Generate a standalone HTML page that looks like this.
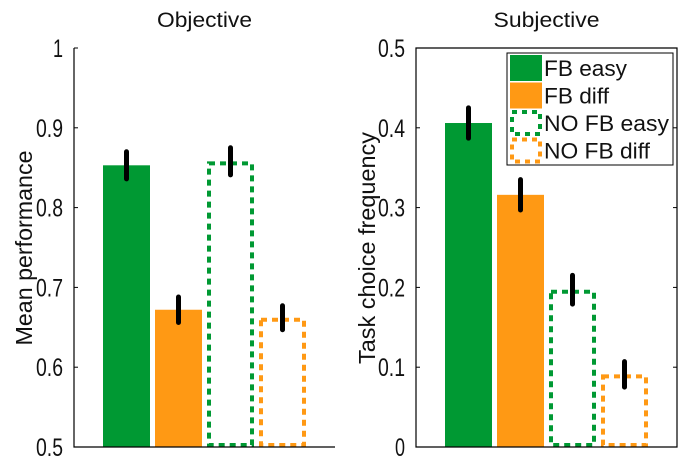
<!DOCTYPE html>
<html><head><meta charset="utf-8"><style>
html,body{margin:0;padding:0;background:#fff;}
svg{display:block;font-family:"Liberation Sans",sans-serif;}
</style></head><body>
<svg id="chart" width="680" height="461"></svg>
<script>
const categories = ["FB easy","FB diff","NO FB easy","NO FB diff"];
const objValues = [0.853, 0.672, 0.858, 0.662];
const objErrors = [0.017, 0.016, 0.017, 0.015];
const subjValues = [0.406, 0.316, 0.197, 0.091];
const subjErrors = [0.019, 0.019, 0.018, 0.016];
const objTicks = ["0.5","0.6","0.7","0.8","0.9","1"];
const subjTicks = ["0","0.1","0.2","0.3","0.4","0.5"];

const NS="http://www.w3.org/2000/svg";
const svg=document.getElementById('chart');
const GREEN="#009933", ORANGE="#ff9914";
function mk(tag,attrs,parent){const e=document.createElementNS(NS,tag);for(const k in attrs)e.setAttribute(k,attrs[k]);(parent||svg).appendChild(e);return e;}

function panel(opt){
  const g=mk('g',{});
  
  
  const x0=opt.x0,x1=opt.x1,yT=48,yB=447;
  const y=v=>yB-(v-opt.min)/(opt.max-opt.min)*(yB-yT);
  const t=mk('text',{x:(x0+x1)/2,y:27,'text-anchor':'middle','font-size':21,fill:'#111'},g);
  t.textContent=opt.title;
  
  
  t.setAttribute('textLength',opt.titleLen);
  t.setAttribute('lengthAdjust','spacingAndGlyphs');
  const bw=47, step=52, c0=(x0+x1)/2-1.5*step;
  opt.values.forEach((v,i)=>{
    const cx=c0+i*step, top=y(v), col=i%2===0?GREEN:ORANGE;
    let r;
    if(i<2){
      r=mk('rect',{x:cx-bw/2,y:top,width:bw,height:yB-top,fill:col},g);
    } else {
      r=mk('rect',{x:cx-bw/2+2,y:top+2,width:bw-4,height:yB-top-4,fill:'none',stroke:col,'stroke-width':4,'stroke-dasharray':'6,5'},g);
    }
    
    
    const e=opt.errors[i];
    const l=mk('line',{x1:cx,x2:cx,y1:y(v+e),y2:y(v-e),stroke:'#000','stroke-width':5,'stroke-linecap':'round'},g);
    
    
  });
  const ax=mk('path',{d:opt.box?`M${x0},${yT}H${x1}V${yB}H${x0}Z`:`M${x0},${yT}V${yB}H${x1}`,fill:'none',stroke:'#000','stroke-width':1.2},g);
  
  
  opt.ticks.forEach((s,i)=>{
    const v=opt.min+i*(opt.max-opt.min)/(opt.ticks.length-1), ty=y(v);
    mk('line',{x1:x0,x2:x0+4,y1:ty,y2:ty,stroke:'#000'},g);
    if(opt.box) mk('line',{x1:x1,x2:x1-4,y1:ty,y2:ty,stroke:'#000'},g);
    const tl=mk('text',{x:x0-11,y:ty+9,'text-anchor':'end','font-size':25,fill:'#111'},g);
    tl.textContent=s;
    
    
    tl.setAttribute('textLength',s.length===1?10:27);
    tl.setAttribute('lengthAdjust','spacingAndGlyphs');
  });
  const yl=mk('text',{x:0,y:0,'text-anchor':'middle','font-size':23,fill:'#111',transform:`translate(${opt.ylx},248) rotate(-90)`},g);
  yl.textContent=opt.ylabel;
  
  
  yl.setAttribute('textLength',opt.ylLen);
  yl.setAttribute('lengthAdjust','spacingAndGlyphs');
}
panel({name:'objective-panel',title:'Objective',titleLen:95,x0:74,x1:335,min:0.5,max:1,values:objValues,errors:objErrors,ticks:objTicks,ylabel:'Mean performance',ylLen:195,ylx:32,box:false});
panel({name:'subjective-panel',title:'Subjective',titleLen:106,x0:416,x1:677,min:0,max:0.5,values:subjValues,errors:subjErrors,ticks:subjTicks,ylabel:'Task choice frequency',ylLen:232,ylx:375,box:true});

const legendLens=[83,65,125,106];
const lg=mk('g',{});


mk('rect',{x:507,y:53,width:166,height:112,fill:'#fff',stroke:'#000','stroke-width':1},lg);
categories.forEach((c,i)=>{
  const cy=68+i*27.5, col=i%2===0?GREEN:ORANGE;
  let s;
  if(i<2) s=mk('rect',{x:510,y:cy-13,width:32,height:26,fill:col},lg);
  else s=mk('rect',{x:512,y:cy-11,width:28,height:22,fill:'none',stroke:col,'stroke-width':4,'stroke-dasharray':'5,5'},lg);
  
  
  const t=mk('text',{x:544,y:cy+8,'font-size':22,fill:'#111'},lg);
  t.textContent=c;
  
  
  t.setAttribute('textLength',legendLens[i]);
  t.setAttribute('lengthAdjust','spacingAndGlyphs');
});
</script>
</body></html>
